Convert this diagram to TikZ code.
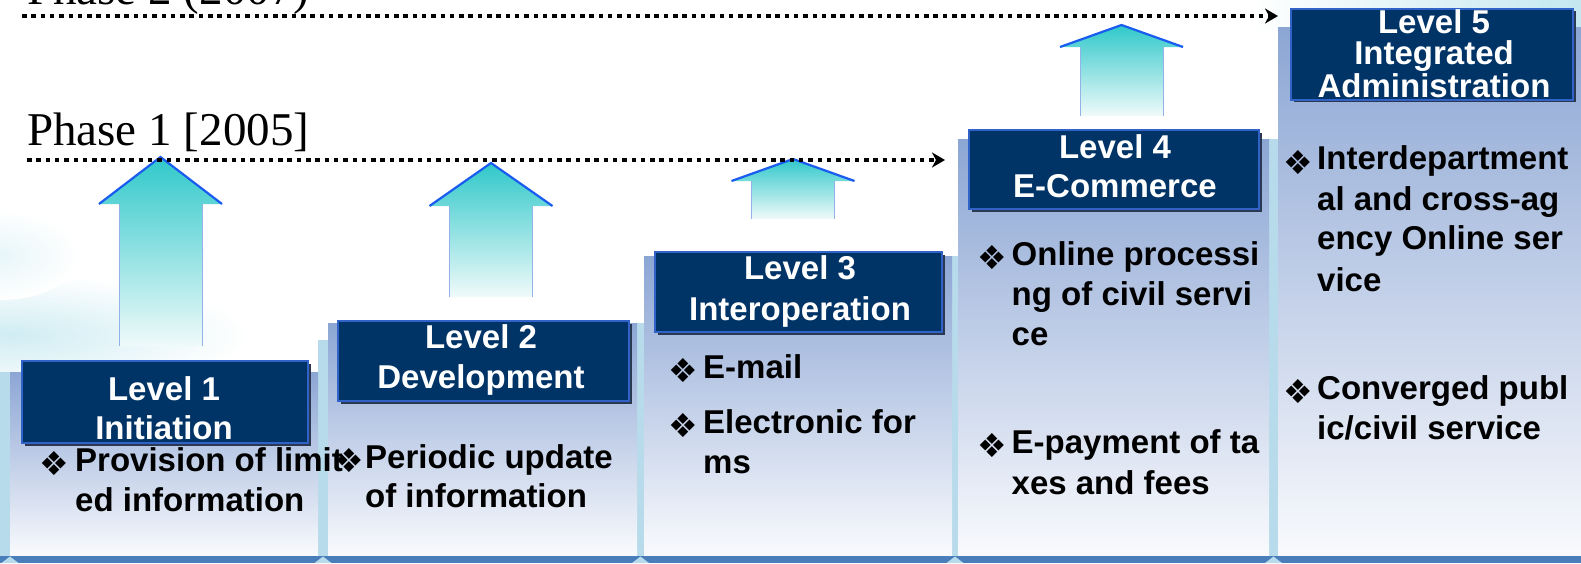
\documentclass[tikz,border=0pt]{standalone}
\usepackage{fontspec}
\newfontfamily\sansfont{Liberation Sans}
\newfontfamily\seriffont{Liberation Serif}
\newfontfamily\symfont{DejaVu Sans}
\usetikzlibrary{arrows.meta}
\definecolor{gapblue}{HTML}{B7DBEA}
\definecolor{coltop}{HTML}{8CA6D4}
\definecolor{colbot}{HTML}{F9FAFD}
\definecolor{navy}{HTML}{003366}
\definecolor{navyedge}{HTML}{3062C8}
\definecolor{shadowc}{HTML}{2A3852}
\definecolor{arrtop}{HTML}{30C8CA}
\definecolor{arrbot}{HTML}{F0FAFA}
\definecolor{headblue}{HTML}{1A5CF0}
\definecolor{shaftblue}{HTML}{92B2E8}
\definecolor{bandblue}{HTML}{4A7EBB}
\definecolor{swoosh}{HTML}{C4E8F0}
\tikzset{
  colbox/.style={top color=coltop, bottom color=colbot, draw=none},
  titlebox/.style={fill=navy, draw=navyedge, line width=2pt, inner sep=0pt},
  titleshadow/.style={fill=shadowc},
  titletext/.style={font=\sansfont\bfseries\fontsize{33}{39}\selectfont, text=white, anchor=base, inner sep=0pt},
  bodytext/.style={font=\sansfont\bfseries\fontsize{33}{39}\selectfont, text=black, anchor=base west, inner sep=0pt},
  bulletmark/.style={font=\symfont\fontsize{33}{33}\selectfont, text=black, anchor=base west, inner sep=0pt, xshift=-2pt, yshift=-4.7pt},
  phasetext/.style={font=\seriffont\fontsize{47}{50}\selectfont, text=black, anchor=base west, inner sep=0pt},
  phaseline/.style={line width=4.5pt, dash pattern=on 4.5pt off 4.8pt, -{Stealth[length=13pt,width=15pt,inset=4pt]}},
  arrowfill/.style={top color=arrtop, bottom color=arrbot, draw=none},
  headline/.style={draw=headblue, line width=2.2pt},
  shaftline/.style={draw=shaftblue, line width=0.9pt},
  gapstrip/.style={fill=gapblue},
}
\newcommand\stagearrow[4]{%
  \path[arrowfill] (#1,#2) -- ({#1+61.5},#3) -- ({#1+41.5},#3) -- ({#1+41.5},#4) -- ({#1-41.5},#4) -- ({#1-41.5},#3) -- ({#1-61.5},#3) -- cycle;
  \draw[shaftline] ({#1-41.5},#3) -- ({#1-41.5},#4) ({#1+41.5},#3) -- ({#1+41.5},#4);
  \draw[headline] ({#1-61.5},#3) -- (#1,#2) -- ({#1+61.5},#3);
}
\begin{document}
\begin{tikzpicture}[x=1pt,y=-1pt]
\useasboundingbox (0,0) rectangle (1581,563);
\fill[white] (0,0) rectangle (1581,563);
% background swooshes
\shade[inner color=swoosh!80, outer color=white] (10,335) ellipse (240 and 60);
\shade[inner color=swoosh!40, outer color=white] (0,255) ellipse (80 and 45);
\shade[left color=white, right color=swoosh] (1250,0) rectangle (1581,30);
% gap strips
\fill[gapstrip] (0,372) rectangle (10,556);
\fill[gapstrip] (318,340) rectangle (328,556);
\fill[gapstrip] (637,323) rectangle (644,556);
\fill[gapstrip] (952,256) rectangle (958,556);
\fill[gapstrip] (1269,139) rectangle (1278,556);
% columns
\fill[colbox] (10,372) rectangle (318,556);
\fill[colbox] (328,323) rectangle (637,556);
\fill[colbox] (644,256) rectangle (952,556);
\fill[colbox] (958,139) rectangle (1269,556);
\fill[colbox] (1278,27) rectangle (1581,556);
% bottom band
\fill[bandblue] (0,556) rectangle (1581,563);
\foreach \gx in {10,323,640.5,955,1273.5}
  \fill[gapblue] (\gx,556.5) -- ({\gx+8.5},563) -- ({\gx-8.5},563) -- cycle;
% title boxes
\fill[titleshadow] (24.5,364) rectangle (311,446);
\node[titlebox, minimum width=286.4pt, minimum height=82pt] (t1) at (164.8,402) {};
\fill[titleshadow] (341,324) rectangle (632,404);
\node[titlebox, minimum width=291pt, minimum height=80pt] (t2) at (483.5,361) {};
\fill[titleshadow] (658,255) rectangle (945,335);
\node[titlebox, minimum width=287pt, minimum height=80pt] (t3) at (798.5,292) {};
\fill[titleshadow] (972,133) rectangle (1262,212);
\node[titlebox, minimum width=290pt, minimum height=79pt] (t4) at (1114,169.5) {};
\fill[titleshadow] (1294,11) rectangle (1576,102);
\node[titlebox, minimum width=282pt, minimum height=91pt] (t5) at (1432,54) {};
% title texts
\node[titletext] (t1a) at (164,400) {Level 1};
\node[titletext] (t1b) at (164,439) {Initiation};
\node[titletext] (t2a) at (481,348) {Level 2};
\node[titletext] (t2b) at (481,388) {Development};
\node[titletext] (t3a) at (800,279) {Level 3};
\node[titletext] (t3b) at (800,320) {Interoperation};
\node[titletext] (t4a) at (1115,158) {Level 4};
\node[titletext] (t4b) at (1115,197.5) {E-Commerce};
\node[titletext] (t5a) at (1434,33) {Level 5};
\node[titletext] (t5b) at (1434,64) {Integrated};
\node[titletext] (t5c) at (1434,97) {Administration};
% body texts
\node[bodytext] (b1a) at (75,471) {Provision of limit};
\node[bodytext] (b1b) at (75,511) {ed information};
\node[bulletmark] (m1) at (41,471) {❖};
\node[bodytext] (b2a) at (365,468) {Periodic update};
\node[bodytext] (b2b) at (365,507) {of information};
\node[bulletmark] (m2) at (336,468) {❖};
\node[bulletmark] (m3a) at (670,378) {❖};
\node[bodytext] (b3a) at (703,378) {E-mail};
\node[bulletmark] (m3b) at (670,433) {❖};
\node[bodytext] (b3b) at (703,433) {Electronic for};
\node[bodytext] (b3c) at (703,473) {ms};
\node[bulletmark] (m4a) at (979,265) {❖};
\node[bodytext] (b4a) at (1011.5,265) {Online processi};
\node[bodytext] (b4b) at (1011.5,305) {ng of civil servi};
\node[bodytext] (b4c) at (1011.5,345) {ce};
\node[bulletmark] (m4b) at (979,453) {❖};
\node[bodytext] (b4d) at (1011.5,453) {E-payment of ta};
\node[bodytext] (b4e) at (1011.5,494) {xes and fees};
\node[bulletmark] (m5a) at (1285,169.5) {❖};
\node[bodytext] (b5a) at (1317,169.5) {Interdepartment};
\node[bodytext] (b5b) at (1317,210) {al and cross-ag};
\node[bodytext] (b5c) at (1317,249.5) {ency Online ser};
\node[bodytext] (b5d) at (1317,291) {vice};
\node[bulletmark] (m5b) at (1285,399) {❖};
\node[bodytext] (b5e) at (1317,399) {Converged publ};
\node[bodytext] (b5f) at (1317,439) {ic/civil service};
% up arrows
\stagearrow{160.5}{157}{204}{346}
\stagearrow{491}{163}{206}{297}
\stagearrow{793}{159}{181}{219}
\stagearrow{1121.5}{25}{47}{116}
% phase lines
\coordinate (p1s) at (27,160);
\coordinate (p1e) at (945,160);
\coordinate (p2s) at (22,16);
\coordinate (p2e) at (1278,16);
\draw[phaseline] (p1s) -- (p1e);
\draw[phaseline] (p2s) -- (p2e);
\node[phasetext] (ph1) at (27,145) {Phase 1 [2005]};
\node[phasetext] (ph2) at (27,4) {Phase 2 (2007)};
\end{tikzpicture}
\end{document}
